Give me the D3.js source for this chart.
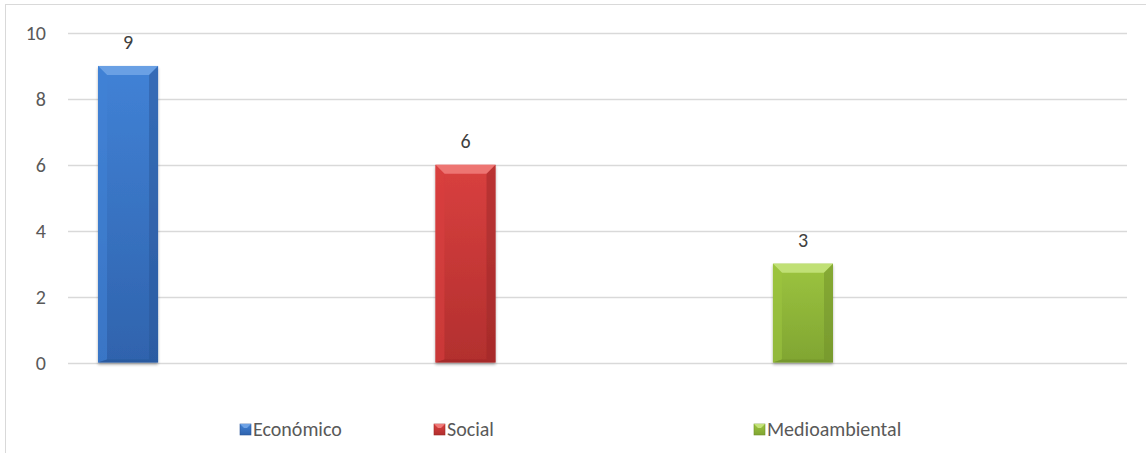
<!DOCTYPE html>
<html>
<head>
<meta charset="utf-8">
<script src="https://cdn.jsdelivr.net/npm/d3@7"></script>
<style>
  body { margin: 0; background: #fff; }
  svg { display: block; font-family: Calibri, Carlito, "Liberation Sans", "Open Sans", sans-serif; }
</style>
</head>
<body>
<div id="chart"></div>
<script>
// data
var series = ["Económico", "Social", "Medioambiental"];
var values = [9, 6, 3];
var yTicks = [0, 2, 4, 6, 8, 10];

var colors = {
    "Económico":      {top: "#6fa3e6", mid: "#4182d6", bot: "#2f63ad", edge: "#2a5597"},
    "Social":         {top: "#f07a78", mid: "#d9403f", bot: "#b22f2e", edge: "#9c2827"},
    "Medioambiental": {top: "#c4e37a", mid: "#9cc43f", bot: "#80a532", edge: "#6f8f2a"}
};

var W = 1146, H = 453;
var svg = d3.select("#chart").append("svg")
    .attr("width", W)
    .attr("height", H);

// chart border
svg.append("rect")
    .attr("x", 5.5).attr("y", 4.5)
    .attr("width", W + 10).attr("height", H + 10)
    .attr("fill", "none")
    .attr("stroke", "#d9d9d9");

// scales
var y = d3.scaleLinear().domain([0, 10]).range([362.5, 33]);
var x = d3.scaleBand().domain(series)
    .range([98, 833])
    .paddingInner(0.822)
    .paddingOuter(0);

var plotLeft = 68, plotRight = 1127;

// gridlines
svg.append("g").selectAll("line")
    .data(yTicks)
    .join("line")
    .attr("x1", plotLeft).attr("x2", plotRight)
    .attr("y1", d => Math.round(y(d)) + 0.5)
    .attr("y2", d => Math.round(y(d)) + 0.5)
    .attr("stroke", "#d9d9d9")
    .attr("stroke-width", 1.5);

// y axis labels
svg.append("g").selectAll("text")
    .data(yTicks)
    .join("text")
    .attr("x", 46)
    .attr("y", d => y(d))
    .attr("dy", "0.35em")
    .attr("text-anchor", "end")
    .attr("fill", "#595959")
    .attr("font-size", 20)
    .text(d => d);

// gradients for the bevelled bars
var defs = svg.append("defs");
series.forEach(function(s, i) {
    var c = colors[s];
    var g = defs.append("linearGradient")
        .attr("id", "grad" + i)
        .attr("x1", 0).attr("y1", 0).attr("x2", 0).attr("y2", 1);
    g.append("stop").attr("offset", "0%").attr("stop-color", c.mid);
    g.append("stop").attr("offset", "100%").attr("stop-color", c.bot);
});
var shadow = defs.append("filter").attr("id", "shadow")
    .attr("x", "-20%").attr("y", "-10%").attr("width", "140%").attr("height", "120%");
shadow.append("feGaussianBlur").attr("in", "SourceAlpha").attr("stdDeviation", 1.5);
shadow.append("feOffset").attr("dx", 0).attr("dy", 1.5).attr("result", "b");
shadow.append("feComponentTransfer").append("feFuncA").attr("type", "linear").attr("slope", 0.3);
var merge = shadow.append("feMerge");
merge.append("feMergeNode");
merge.append("feMergeNode").attr("in", "SourceGraphic");

// bars
var bars = svg.append("g").selectAll("g")
    .data(series)
    .join("g")
    .attr("filter", "url(#shadow)");

var bev = 9;
bars.each(function(s, i) {
    var g = d3.select(this);
    var c = colors[s];
    var x0 = x(s), bw = x.bandwidth();
    var y0 = y(values[i]), y1 = y(0);
    g.append("rect")
        .attr("x", x0).attr("y", y0)
        .attr("width", bw).attr("height", y1 - y0)
        .attr("fill", "url(#grad" + i + ")");
    // top bevel
    g.append("path")
        .attr("d", "M" + x0 + "," + y0 + "H" + (x0 + bw) + "L" + (x0 + bw - bev) + "," + (y0 + bev) + "H" + (x0 + bev) + "Z")
        .attr("fill", c.top).attr("opacity", 0.9);
    // left bevel
    g.append("path")
        .attr("d", "M" + x0 + "," + y0 + "L" + (x0 + bev) + "," + (y0 + bev) + "V" + (y1 - 3) + "L" + x0 + "," + y1 + "Z")
        .attr("fill", c.mid).attr("opacity", 0.6);
    // right bevel
    g.append("path")
        .attr("d", "M" + (x0 + bw) + "," + y0 + "L" + (x0 + bw - bev) + "," + (y0 + bev) + "V" + (y1 - 3) + "L" + (x0 + bw) + "," + y1 + "Z")
        .attr("fill", c.edge).attr("opacity", 0.5);
    // bottom bevel
    g.append("path")
        .attr("d", "M" + x0 + "," + y1 + "L" + (x0 + bev) + "," + (y1 - 3) + "H" + (x0 + bw - bev) + "L" + (x0 + bw) + "," + y1 + "Z")
        .attr("fill", c.edge).attr("opacity", 0.6);
});

// value labels
svg.append("g").selectAll("text")
    .data(series)
    .join("text")
    .attr("x", d => x(d) + x.bandwidth() / 2)
    .attr("y", (d, i) => y(values[i]) - 17)
    .attr("text-anchor", "middle")
    .attr("fill", "#404040")
    .attr("font-size", 20)
    .text((d, i) => values[i]);

// legend
var legendX = [240, 434, 754];
var legend = svg.append("g").selectAll("g")
    .data(series)
    .join("g")
    .attr("transform", (d, i) => "translate(" + legendX[i] + ",429)");

legend.append("rect")
    .attr("x", 0).attr("y", -5)
    .attr("width", 11).attr("height", 11)
    .attr("fill", (d, i) => "url(#grad" + i + ")")
    .attr("stroke", d => colors[d].edge)
    .attr("stroke-width", 0.6);
legend.append("path")
    .attr("d", "M0,-5H11L7,-1H4Z")
    .attr("fill", d => colors[d].top);

legend.append("text")
    .attr("x", 13)
    .attr("y", 0)
    .attr("dy", "0.35em")
    .attr("fill", "#595959")
    .attr("font-size", 20)
    .text(d => d);
</script>
</body>
</html>
